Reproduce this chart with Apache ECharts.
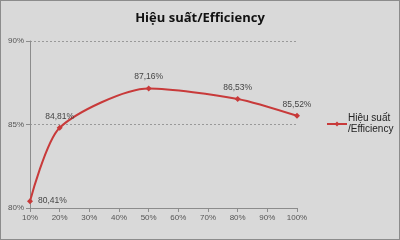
<!DOCTYPE html>
<html><head><meta charset="utf-8">
<script src="https://cdn.jsdelivr.net/npm/echarts@6/dist/echarts.min.js"></script>
<style>html,body{margin:0;padding:0;background:#d9d9d9}#c{width:400px;height:240px;box-sizing:border-box;border:1px solid #8c8c8c}</style>
</head><body><div id="c"></div>
<script>
const loads = [10, 20, 50, 80, 100];
const efficiency = [80.41, 84.81, 87.16, 86.53, 85.52];
const seriesName = 'Hiệu suất\n/Efficiency';
const titleText = 'Hiệu suất/Efficiency';

const chart = echarts.init(document.getElementById('c'), null, {renderer: 'canvas'});
const fmt = v => v.toFixed(2).replace('.', ',') + '%';
chart.setOption({
  animation: false,
  backgroundColor: '#d9d9d9',
  title: {text: titleText, left: 'center', top: 6,
    textStyle: {fontFamily: 'Open Sans', fontWeight: 'bold', fontSize: 13, color: '#111'}},
  legend: {data: [seriesName], left: 320, top: 107, orient: 'vertical',
    itemWidth: 20, itemHeight: 6, itemGap: 2,
    textStyle: {fontFamily: 'Liberation Sans', fontSize: 10, color: '#222', lineHeight: 11, padding: [0,0,0,-4]}},
  grid: {left: 29, right: 102, top: 40, bottom: 31},
  xAxis: {type: 'value', min: 10, max: 100, interval: 10,
    axisLine: {lineStyle: {color: '#8c8c8c'}},
    axisTick: {show: true, length: 4, lineStyle: {color: '#8c8c8c'}},
    splitLine: {show: false},
    axisLabel: {formatter: v => v + '%', fontFamily: 'Liberation Sans', fontSize: 8, color: '#555', margin: 6}},
  yAxis: {type: 'value', min: 80, max: 90, interval: 5,
    axisLine: {show: true, lineStyle: {color: '#8c8c8c'}},
    axisTick: {show: true, length: 4, lineStyle: {color: '#8c8c8c'}},
    splitLine: {show: true, lineStyle: {color: '#999', type: [2,2], width: 1}},
    axisLabel: {formatter: v => v + '%', fontFamily: 'Liberation Sans', fontSize: 8, color: '#555', margin: 6}},
  series: [{
    name: seriesName, type: 'line', smooth: 0.25,
    data: loads.map((x, i) => {
      const item = {value: [x, efficiency[i]]};
      if (i === 0) item.label = {position: 'right', distance: 5};
      return item;
    }),
    lineStyle: {color: '#c83a3a', width: 2},
    itemStyle: {color: '#c83a3a'},
    symbol: 'diamond', symbolSize: 6,
    label: {show: true, position: 'top', distance: 4, fontFamily: 'Liberation Sans', fontSize: 8.5, color: '#444',
      formatter: p => fmt(p.value[1])}
  }]
});
</script></body></html>
